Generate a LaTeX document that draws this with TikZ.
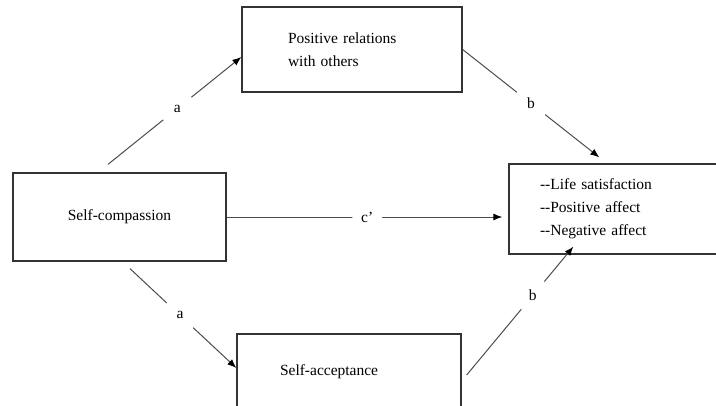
\documentclass[tikz,border=0pt]{standalone}
\usepackage{fontspec}
\setmainfont{Liberation Serif}
\usetikzlibrary{arrows.meta,positioning}

\begin{document}
\begin{tikzpicture}[x=1pt,y=-1pt,
    every node/.style={font=\fontsize{15.5}{23}\selectfont},
    box/.style={draw=black!80,line width=1.3pt,inner sep=0pt},
    path/.style={draw=black!70,line width=1pt,-{Latex[length=9pt,width=7pt,black]}},
    coef/.style={circle,fill=white,inner sep=0pt,minimum size=36pt}
]
    \useasboundingbox (0,0) rectangle (716,405);
    \clip (0,0) rectangle (716,405);
    % variables
    \node [box,minimum width=213pt,minimum height=88pt] (sc) at (119.5,217) {Self-compassion};
    \node [box,minimum width=220pt,minimum height=85pt,text width=128pt,align=left] (pr) at (352,49.5)
        {Positive relations\\with others};
    \node [box,minimum width=224pt,minimum height=76pt,text width=138pt,align=left] (sa) at (349,372)
        {Self-acceptance};
    \node [box,minimum width=240pt,minimum height=90pt,text width=178pt,align=left] (out) at (629,209)
        {-{}-Life satisfaction\\-{}-Positive affect\\-{}-Negative affect};
    % paths
    \draw [path] ([xshift=-11.5pt,yshift=8pt]sc.north) -- node [coef,pos=0.52] (a1) {a} ([yshift=-7.5pt]pr.west);
    \draw [path] (pr.east) -- node [coef,pos=0.5] (b1) {b} ([xshift=91pt,yshift=6pt]out.north west);
    \draw [path] (sc.east) -- node [coef,pos=0.51,minimum size=30pt] (c1) {c'} ([xshift=-6pt,yshift=-8pt]out.west);
    \draw [path] ([xshift=10.5pt,yshift=-7pt]sc.south) -- node [coef,pos=0.47] (a2) {a} ([yshift=4pt]sa.west);
    \draw [path] ([xshift=5pt,yshift=-3pt]sa.east) -- node [coef,pos=0.62] (b2) {b} ([xshift=65pt,yshift=8pt]out.south west);
\end{tikzpicture}
\end{document}
